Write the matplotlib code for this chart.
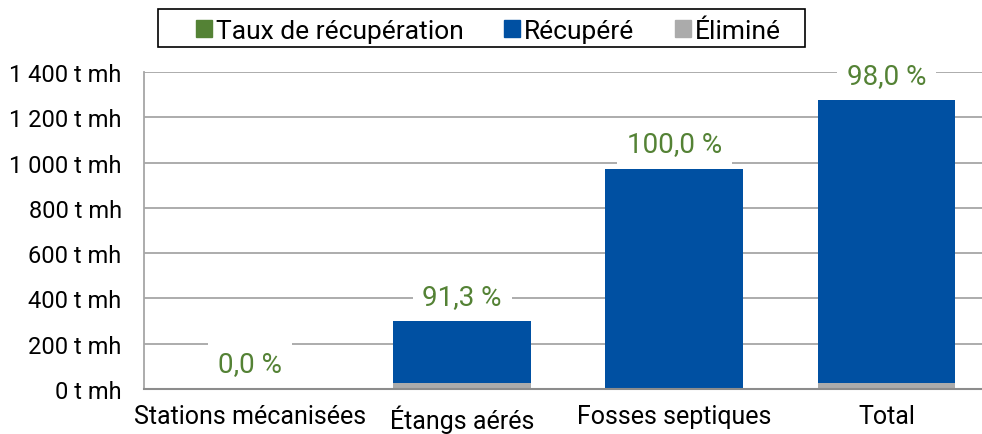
import matplotlib.pyplot as plt
from matplotlib.patches import Patch, Rectangle

plt.rcParams['font.family'] = ['Roboto', 'DejaVu Sans']

categories = ["Stations mécanisées", "Étangs aérés", "Fosses septiques", "Total"]
elimine = [0, 26, 0, 26]
recupere = [0, 274, 972, 1250]
taux = [0.0, 91.3, 100.0, 98.0]
yticks = [0, 200, 400, 600, 800, 1000, 1200, 1400]

blue = "#0050A2"
grey = "#ABABAB"
green = "#548235"

fig = plt.figure(figsize=(9.82, 4.35), dpi=100)
ax = fig.add_axes([0.1466, 0.1034, 0.8534, 0.7288])

x = range(len(categories))
ax.bar(x, elimine, width=0.65, color=grey, zorder=3)
ax.bar(x, recupere, bottom=elimine, width=0.65, color=blue, zorder=3)

for i, t in enumerate(taux):
    top = elimine[i] + recupere[i]
    ax.annotate(f"{t:.1f} %".replace(".", ","), (i, top), xytext=(0, 18),
                textcoords="offset points", ha="center", va="center",
                fontsize=20, color=green, zorder=5,
                bbox=dict(facecolor="white", edgecolor="none", pad=7))

ax.set_ylim(0, 1400)
ax.set_xlim(-0.5, 3.45)
ax.set_yticks(yticks)
ax.set_yticklabels([f"{v:,} t mh".replace(",", " ") for v in yticks])
ax.set_xticks(list(x))
ax.set_xticklabels(categories)
ax.tick_params(axis="both", length=0, labelsize=17, colors="black")
ax.tick_params(axis="y", pad=16)
ax.tick_params(axis="x", pad=11, labelsize=18)
ax.yaxis.grid(True, color="#A6A6A6", linewidth=1.3, zorder=0)
for s in ["top", "right"]:
    ax.spines[s].set_visible(False)
ax.spines["left"].set_color("#A6A6A6")
ax.spines["left"].set_linewidth(1.3)
ax.spines["bottom"].set_color("#8C8C8C")
ax.spines["bottom"].set_linewidth(1.5)
ax.spines["bottom"].set_zorder(4)

# legend box drawn separately (wider left margin like the original)
fig.add_artist(Rectangle((0.1609, 0.8897), 0.6589, 0.0874, transform=fig.transFigure,
                         facecolor="white", edgecolor="black", linewidth=1.2))
handles = [Patch(color=green), Patch(color=blue), Patch(color=grey)]
leg = fig.legend(handles, ["Taux de récupération", "Récupéré", "Éliminé"],
                 loc="center left", bbox_to_anchor=(0.1996, 0.927), ncol=3,
                 fontsize=19, frameon=False,
                 handlelength=0.6, handleheight=0.6, handletextpad=0.15,
                 columnspacing=1.55, borderpad=0, borderaxespad=0)

fig.savefig("out.png", dpi=100)
